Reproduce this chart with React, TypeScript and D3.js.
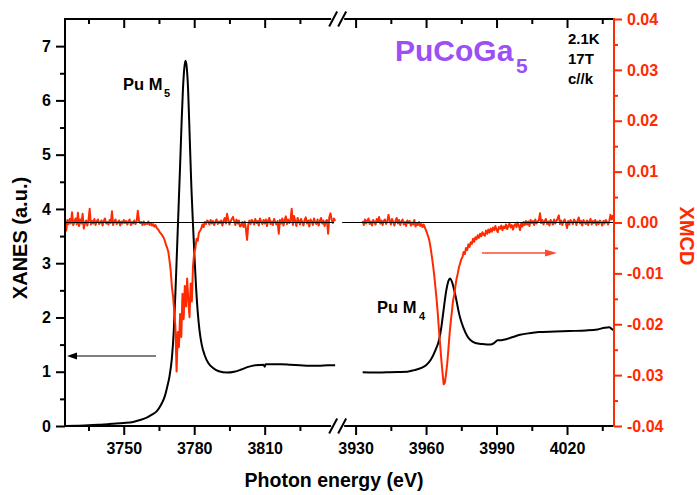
import React, { useEffect, useRef } from "react"
import * as d3 from "d3"

// XANES at the Pu M5 edge: photon energy (eV) and intensity (a.u.)
const xanesM5Energy = [3725, 3730, 3735, 3740, 3745, 3750, 3754, 3757, 3760, 3762, 3764, 3766, 3767.5, 3768.5, 3769.5, 3770.5, 3771.3, 3772, 3772.6, 3773.2, 3774, 3774.6, 3775.2, 3775.8, 3776.3, 3776.8, 3777.4, 3778.1, 3778.8, 3779.5, 3780.2, 3780.8, 3781.5, 3782.3, 3783.2, 3784.5, 3786, 3788, 3790.5, 3794, 3797, 3800, 3803, 3806, 3809.5, 3810, 3810.4, 3813, 3817, 3821, 3825, 3829, 3833, 3837, 3840]
const xanesM5 = [0.0, 0.005, 0.012, 0.025, 0.04, 0.055, 0.075, 0.11, 0.16, 0.21, 0.27, 0.4, 0.55, 0.72, 0.92, 1.25, 1.75, 2.45, 3.15, 3.85, 4.8, 5.55, 6.2, 6.6, 6.73, 6.62, 6.2, 5.3, 4.4, 3.7, 3.05, 2.55, 2.1, 1.75, 1.5, 1.3, 1.16, 1.07, 1.01, 0.985, 1.0, 1.04, 1.09, 1.12, 1.13, 1.09, 1.14, 1.14, 1.14, 1.13, 1.12, 1.11, 1.11, 1.12, 1.12]

// XANES at the Pu M4 edge
const xanesM4Energy = [3933, 3938, 3943, 3948, 3952, 3955, 3958, 3960, 3962, 3964, 3965.5, 3966.5, 3967.2, 3968, 3968.7, 3969.5, 3970.2, 3971, 3972, 3973, 3974, 3975, 3976, 3977.5, 3979, 3981, 3984, 3987.5, 3989, 3990.5, 3992, 3994, 3997, 4000, 4004, 4008, 4015, 4021, 4028, 4033, 4036, 4038, 4039, 4040]
const xanesM4 = [0.99, 0.985, 0.99, 0.995, 1.0, 1.03, 1.07, 1.12, 1.22, 1.4, 1.58, 1.82, 2.05, 2.32, 2.52, 2.67, 2.72, 2.66, 2.5, 2.3, 2.08, 1.92, 1.8, 1.66, 1.58, 1.53, 1.51, 1.5, 1.53, 1.58, 1.58, 1.6, 1.64, 1.68, 1.71, 1.73, 1.74, 1.75, 1.76, 1.78, 1.81, 1.82, 1.79, 1.76]

// XMCD read every 0.5 eV, in units of 1e-3
const xmcdStep = 0.5
const xmcdM5Start = 3725
const xmcdM5 = [
  0.2, -1.6, 0.5, -0.3, 0.7, -0.2, 2.0, -0.5, 0.1, 0.8,
  -0.4, 1.9, -0.7, 0.6, -0.2, 1.7, -1.2, -0.1, 0.4, -0.6,
  0.5, 2.7, -0.4, 0.3, -0.2, 0.7, -0.5, 0.2, 0.6, -0.3,
  0.0, 0.4, -0.6, 0.3, 0.8, -0.2, 0.1, -0.4, 0.5, -0.1,
  2.2, -0.5, 0.2, 0.6, -0.3, 0.0, 0.4, -0.6, 0.2, -0.2,
  0.5, -0.1, 0.3, -0.4, 0.2, 0.6, -0.5, 0.1, -0.2, 0.4,
  -0.3, 0.2, 2.3, 0.3, -0.1, 0.1, -0.5, 0.2, -0.4, -0.1,
  -0.3, 0.2, -0.5, -0.1, -0.6, -0.3, -0.8, -0.5, -1.0, -1.3,
  -1.6, -2.0, -2.3, -2.6, -3.0, -3.6, -4.4, -5.0, -5.8, -7.5,
  -9.5, -12.7, -14.5, -17.5, -20.5, -29.3, -21.5, -24.5, -18.0, -22.5,
  -14.0, -19.0, -12.5, -16.5, -11.0, -15.5, -18.6, -12.0, -15.5, -8.5,
  -6.0, -5.0, -3.2, -3.6, -2.0, -1.6, -1.2, -0.4, -0.9, 0.1,
  -0.3, 0.4, 0.2, -0.4, 0.5, -0.2, 0.3, -0.5, 0.1, 0.6,
  -0.3, 0.2, -0.1, 0.4, -0.6, 0.3, 0.9, -0.2, 1.7, 0.5,
  -0.4, 0.2, 0.7, 1.1, 0.3, -0.5, 0.6, -0.2, 0.4, -0.8,
  -0.6, 0.1, -0.9, 0.2, -1.2, -3.4, -0.5, 0.4, -0.3, 0.5,
  0.2, -0.4, 0.7, -0.1, 0.3, -0.6, 0.8, 0.1, -0.3, 0.5,
  -0.2, 0.6, -0.7, 0.4, 0.9, -0.3, 0.2, -0.5, 0.7, 0.1,
  -0.4, 0.3, -2.2, 0.5, -0.2, 0.8, -0.6, 0.4, 1.2, -0.3,
  0.6, -0.1, 0.4, 2.7, -0.5, 1.3, 0.2, -0.7, 0.9, 0.3,
  -0.4, 0.7, 0.1, -0.6, 0.5, 1.0, -0.2, 0.4, -0.8, 0.6,
  0.2, -0.5, 0.8, 0.0, -0.3, 0.6, -0.6, 0.3, 0.9, -0.2,
  0.4, -0.7, 0.2, 0.5, -2.2, 1.0, 1.8, 0.6, -0.1, 0.8,
  0.3,
]
const xmcdM4Start = 3933
const xmcdM4 = [
  0.3, -0.5, 0.6, -0.2, 0.4, 0.8, -0.3, 0.2, -0.6, 0.5,
  0.1, -0.4, 0.7, 0.2, 1.1, -0.2, 0.4, -0.5, 0.3, 0.6,
  -0.3, 0.2, 1.5, 0.4, -0.4, 0.7, 0.1, -0.6, 0.3, 0.9,
  -0.2, 0.5, -0.5, 0.2, 0.6, -0.4, 0.1, -0.7, 0.4, -0.1,
  0.3, -0.6, 0.0, -0.4, 0.5, -0.8, -0.2, -0.5, 0.1, -0.7,
  -0.3, -0.9, -0.4, -1.0, -1.6, -2.2, -2.9, -3.8, -5.2, -6.8,
  -8.5, -10.5, -12.8, -15.2, -18.0, -21.2, -24.0, -27.0, -29.5, -31.8,
  -31.5, -29.8, -27.7, -25.0, -22.0, -19.5, -17.5, -15.3, -14.2, -12.5,
  -11.0, -10.0, -8.8, -8.0, -7.2, -6.8, -5.8, -6.2, -5.0, -5.4,
  -4.3, -4.8, -3.9, -4.2, -3.2, -3.8, -2.9, -3.3, -2.5, -3.0,
  -2.2, -2.7, -1.9, -2.4, -2.6, -1.6, -2.2, -1.4, -2.0, -1.2,
  -1.8, -1.0, -1.5, -0.7, -1.4, -1.9, -0.9, -1.2, -0.6, -1.5,
  -0.8, -1.1, -0.4, -1.3, -0.7, -0.2, -1.0, -0.5, -1.4, -0.6,
  -0.3, -0.9, 0.0, -0.6, -1.5, -0.2, -0.8, 0.1, -0.5, 0.3,
  -0.4, 0.2, -0.7, 0.5, -0.1, 0.3, -0.5, 0.6, -0.2, 0.2,
  0.4, 1.8, -0.1, 0.5, -0.4, 0.3, 0.7, -0.3, 0.2, -0.6,
  0.5, 0.1, -0.4, 0.6, -0.2, 0.3, 0.8, 1.4, -0.3, 0.4,
  -0.5, 0.2, 0.6, -0.1, -1.1, 0.3, -0.4, 0.5, 0.1, -0.3,
  0.6, 0.2, -0.5, 0.4, 1.0, -0.2, 0.3, -0.6, 0.5, 0.0,
  -0.3, 0.4, -0.5, 0.2, 0.7, -0.4, 0.3, -0.1, 0.5, -0.5,
  0.2, -0.3, 0.4, 0.0, -0.6, 0.3, -0.2, 0.5, 0.1, -0.4,
  0.3, 1.5, 0.6, 1.3, 0.4,
]

// axis ranges and ticks
const xDomainM5 = [3725, 3840]
const xDomainM4 = [3923, 4040]
const xTicksM5 = [3750, 3780, 3810]
const xMinorM5 = [3735, 3765, 3795, 3825]
const xTicksM4 = [3930, 3960, 3990, 4020]
const xMinorM4 = [3945, 3975, 4005, 4035]
const yLeftTicks = [0, 1, 2, 3, 4, 5, 6, 7]
const yLeftMinor = [0.5, 1.5, 2.5, 3.5, 4.5, 5.5, 6.5]
const yRightTicks = [-0.04, -0.03, -0.02, -0.01, 0, 0.01, 0.02, 0.03, 0.04]
const yRightMinor = [-0.035, -0.025, -0.015, -0.005, 0.005, 0.015, 0.025, 0.035]

const FONT = "'Liberation Sans', Arial, sans-serif"
const RED = "#ff2a00"

export default function App() {
  const ref = useRef<SVGSVGElement>(null)

  useEffect(() => {
    const svg = d3.select(ref.current)
    svg.selectAll("*").remove()

    const left = 65, right = 614, top = 19, bottom = 426
    const gap = 4
    const w1 = xDomainM5[1] - xDomainM5[0]
    const w2 = xDomainM4[1] - xDomainM4[0]
    const k = (right - left - gap) / (w1 + w2) // px per eV, same for both pieces

    const x1 = d3.scaleLinear().domain(xDomainM5).range([left, left + w1 * k])
    const x2 = d3.scaleLinear().domain(xDomainM4).range([right - w2 * k, right])
    const yL = d3.scaleLinear().domain([0, 7.5]).range([bottom, top])
    const yR = d3.scaleLinear().domain([-0.04, 0.04]).range([bottom, top])

    const g = svg.append("g").attr("font-family", FONT).attr("font-weight", "bold")

    // XANES curves
    const drawXanes = (x, es, vs) => {
      const line = d3.line<number>()
        .x((d, i) => x(es[i]))
        .y((d) => yL(d))
        .curve(d3.curveMonotoneX)
      g.append("path").attr("d", line(vs)).attr("fill", "none")
        .attr("stroke", "#000").attr("stroke-width", 2)
    }
    drawXanes(x1, xanesM5Energy, xanesM5)
    drawXanes(x2, xanesM4Energy, xanesM4)

    // XMCD curves
    const drawXmcd = (x, start, vs) => {
      const line = d3.line<number>()
        .x((d, i) => x(start + i * xmcdStep))
        .y((d) => yR(d / 1000))
      g.append("path").attr("d", line(vs)).attr("fill", "none")
        .attr("stroke", RED).attr("stroke-width", 2).attr("stroke-linejoin", "round")
    }
    drawXmcd(x1, xmcdM5Start, xmcdM5)
    drawXmcd(x2, xmcdM4Start, xmcdM4)

    // XMCD zero line
    g.append("line").attr("x1", x1.range()[0]).attr("x2", x1.range()[1] - 1)
      .attr("y1", yR(0)).attr("y2", yR(0)).attr("stroke", "#000").attr("stroke-width", 1)
    g.append("line").attr("x1", x2.range()[0] + 3).attr("x2", x2.range()[1])
      .attr("y1", yR(0)).attr("y2", yR(0)).attr("stroke", "#000").attr("stroke-width", 1)

    // x axes (bottom: labels + outward ticks, top: inward ticks)
    const styleAxis = (sel, color) => {
      sel.select(".domain").remove()
      sel.selectAll("line").attr("stroke", color).attr("stroke-width", 2)
      sel.selectAll("text").attr("fill", color).attr("font-size", 16)
        .attr("font-family", FONT).attr("font-weight", "bold")
    }
    ;[[x1, xTicksM5, xMinorM5], [x2, xTicksM4, xMinorM4]].forEach(([x, maj, min]) => {
      const b = g.append("g").attr("transform", `translate(0,${bottom})`)
        .call(d3.axisBottom(x).tickValues(maj).tickSize(9).tickPadding(8).tickFormat(d3.format("d")))
      styleAxis(b, "#000")
      const bm = g.append("g").attr("transform", `translate(0,${bottom})`)
        .call(d3.axisBottom(x).tickValues(min).tickSize(5).tickFormat(() => ""))
      styleAxis(bm, "#000")
      const t = g.append("g").attr("transform", `translate(0,${top})`)
        .call(d3.axisTop(x).tickValues(maj).tickSize(-9).tickFormat(() => ""))
      styleAxis(t, "#000")
      const tm = g.append("g").attr("transform", `translate(0,${top})`)
        .call(d3.axisTop(x).tickValues(min).tickSize(-5).tickFormat(() => ""))
      styleAxis(tm, "#000")
    })

    // x axis lines with break
    const brk = (x1.range()[1] + x2.range()[0]) / 2
    ;[top, bottom].forEach((y) => {
      g.append("line").attr("x1", left).attr("x2", brk - 6).attr("y1", y).attr("y2", y)
        .attr("stroke", "#000").attr("stroke-width", 2)
      g.append("line").attr("x1", brk + 7).attr("x2", right).attr("y1", y).attr("y2", y)
        .attr("stroke", "#000").attr("stroke-width", 2)
      ;[brk - 4, brk + 5].forEach((cx) => {
        g.append("line").attr("x1", cx - 4).attr("y1", y + 7.5).attr("x2", cx + 4).attr("y2", y - 7.5)
          .attr("stroke", "#000").attr("stroke-width", 2)
      })
    })

    // left axis
    const la = g.append("g").attr("transform", `translate(${left},0)`)
      .call(d3.axisLeft(yL).tickValues(yLeftTicks).tickSize(9).tickPadding(5).tickFormat(d3.format("d")))
    styleAxis(la, "#000")
    const lm = g.append("g").attr("transform", `translate(${left},0)`)
      .call(d3.axisLeft(yL).tickValues(yLeftMinor).tickSize(5).tickFormat(() => ""))
    styleAxis(lm, "#000")
    g.append("line").attr("x1", left).attr("x2", left).attr("y1", top - 1).attr("y2", bottom + 1)
      .attr("stroke", "#000").attr("stroke-width", 2)

    // right axis (XMCD)
    const ra = g.append("g").attr("transform", `translate(${right},0)`)
      .call(d3.axisRight(yR).tickValues(yRightTicks).tickSize(8).tickPadding(5)
        .tickFormat((d) => (Math.abs(d) < 1e-9 ? "0.00" : d.toFixed(2))))
    styleAxis(ra, RED)
    const rm = g.append("g").attr("transform", `translate(${right},0)`)
      .call(d3.axisRight(yR).tickValues(yRightMinor).tickSize(4).tickFormat(() => ""))
    styleAxis(rm, RED)
    g.append("line").attr("x1", right).attr("x2", right).attr("y1", top - 1).attr("y2", bottom + 1)
      .attr("stroke", RED).attr("stroke-width", 2)

    // axis titles
    g.append("text").attr("x", 334).attr("y", 487).attr("text-anchor", "middle")
      .attr("font-size", 19.5).text("Photon energy (eV)")
    g.append("text").attr("transform", "translate(27,238) rotate(-90)").attr("text-anchor", "middle")
      .attr("font-size", 20).text("XANES (a.u.)")
    g.append("text").attr("transform", "translate(680,236) rotate(90)").attr("text-anchor", "middle")
      .attr("font-size", 20).attr("fill", RED).text("XMCD")

    // compound name and conditions
    g.append("text").attr("x", 395).attr("y", 61).attr("font-size", 30).attr("fill", "#9b4ff5").text("PuCoGa")
    g.append("text").attr("x", 516).attr("y", 73).attr("font-size", 21).attr("fill", "#9b4ff5").text("5")
    ;["2.1K", "17T", "c//k"].forEach((s, i) => {
      g.append("text").attr("x", 568).attr("y", 44 + i * 20).attr("font-size", 15).text(s)
    })

    // edge labels
    g.append("text").attr("x", 123).attr("y", 90).attr("font-size", 16.5).text("Pu M")
    g.append("text").attr("x", 164).attr("y", 97).attr("font-size", 11).text("5")
    g.append("text").attr("x", 377).attr("y", 313).attr("font-size", 16.5).text("Pu M")
    g.append("text").attr("x", 419).attr("y", 320).attr("font-size", 11).text("4")

    // arrows pointing to the axes
    g.append("line").attr("x1", 156).attr("x2", 75).attr("y1", 356).attr("y2", 356)
      .attr("stroke", "#000").attr("stroke-width", 1)
    g.append("path").attr("d", "M67,356 L77,352.5 L77,359.5 Z").attr("fill", "#000")
    g.append("line").attr("x1", 482).attr("x2", 547).attr("y1", 253).attr("y2", 253)
      .attr("stroke", "#ff4a30").attr("stroke-width", 1.5)
    g.append("path").attr("d", "M557,253 L545,249.5 L545,256.5 Z").attr("fill", "#ff4a30")
  }, [])

  return (
    <div style={{ position: "absolute", left: 0, top: 0 }}>
      <svg ref={ref} width={697} height={495} style={{ display: "block", background: "#fff" }} />
    </div>
  )
}
